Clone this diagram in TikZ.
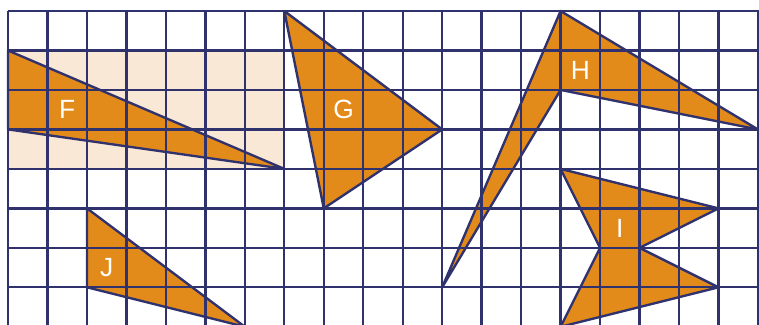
\documentclass[tikz,border=0pt]{standalone}
\usepackage{fontspec}
\setsansfont{Liberation Sans}
\definecolor{gridcolor}{RGB}{48,50,110}
\definecolor{figcolor}{RGB}{227,139,26}
\definecolor{areacolor}{RGB}{250,232,214}

\begin{document}
\begin{tikzpicture}[line join=round,
  gridline/.style={draw=gridcolor, line width=1.7pt},
  figfill/.style={fill=figcolor},
  figedge/.style={draw=gridcolor, line width=1.7pt},
  letter/.style={text=white, inner sep=0pt,
    font=\sffamily\fontsize{19}{19}\selectfont}
]
  \useasboundingbox (-0.203, 0.279) rectangle (19.027, -7.955);
  \clip (-0.203, 0.279) rectangle (19.027, -7.955);

  % ---- shaded area behind F ----
  \fill[areacolor] (0,-1) rectangle (7,-4);

  % ---- filled figures ----
  \fill[figfill] (0,-1) -- (0,-3) -- (7,-4) -- cycle;                     % F
  \fill[figfill] (7,0) -- (11,-3) -- (8,-5) -- cycle;                     % G
  \fill[figfill] (11,-7) -- (14,0) -- (19,-3) -- (14,-2) -- cycle;        % H
  \fill[figfill] (14,-4) -- (18,-5) -- (16,-6) -- (18,-7) -- (14,-8)
    -- (15,-6) -- cycle;                                                  % I
  \fill[figfill] (2,-5) -- (2,-7) -- (6,-8) -- cycle;                     % J

  % ---- grid ----
  \foreach \col in {0,...,19}
    \draw[gridline] (\col,0) -- (\col,-8.4);
  \foreach \row in {0,...,8}
    \draw[gridline] (0,-\row) -- (19.4,-\row);

  % ---- outlines ----
  \draw[figedge] (0,-1) -- (0,-3) -- (7,-4) -- cycle;
  \draw[figedge] (7,0) -- (11,-3) -- (8,-5) -- cycle;
  \draw[figedge] (11,-7) -- (14,0) -- (19,-3) -- (14,-2) -- cycle;
  \draw[figedge] (14,-4) -- (18,-5) -- (16,-6) -- (18,-7) -- (14,-8)
    -- (15,-6) -- cycle;
  \draw[figedge] (2,-5) -- (2,-7) -- (6,-8) -- cycle;

  % ---- labels ----
  \node[letter] (labF) at (1.5,-2.5) {F};
  \node[letter] (labG) at (8.5,-2.5) {G};
  \node[letter] (labH) at (14.5,-1.5) {H};
  \node[letter] (labI) at (15.5,-5.5) {I};
  \node[letter] (labJ) at (2.5,-6.5) {J};
\end{tikzpicture}
\end{document}
